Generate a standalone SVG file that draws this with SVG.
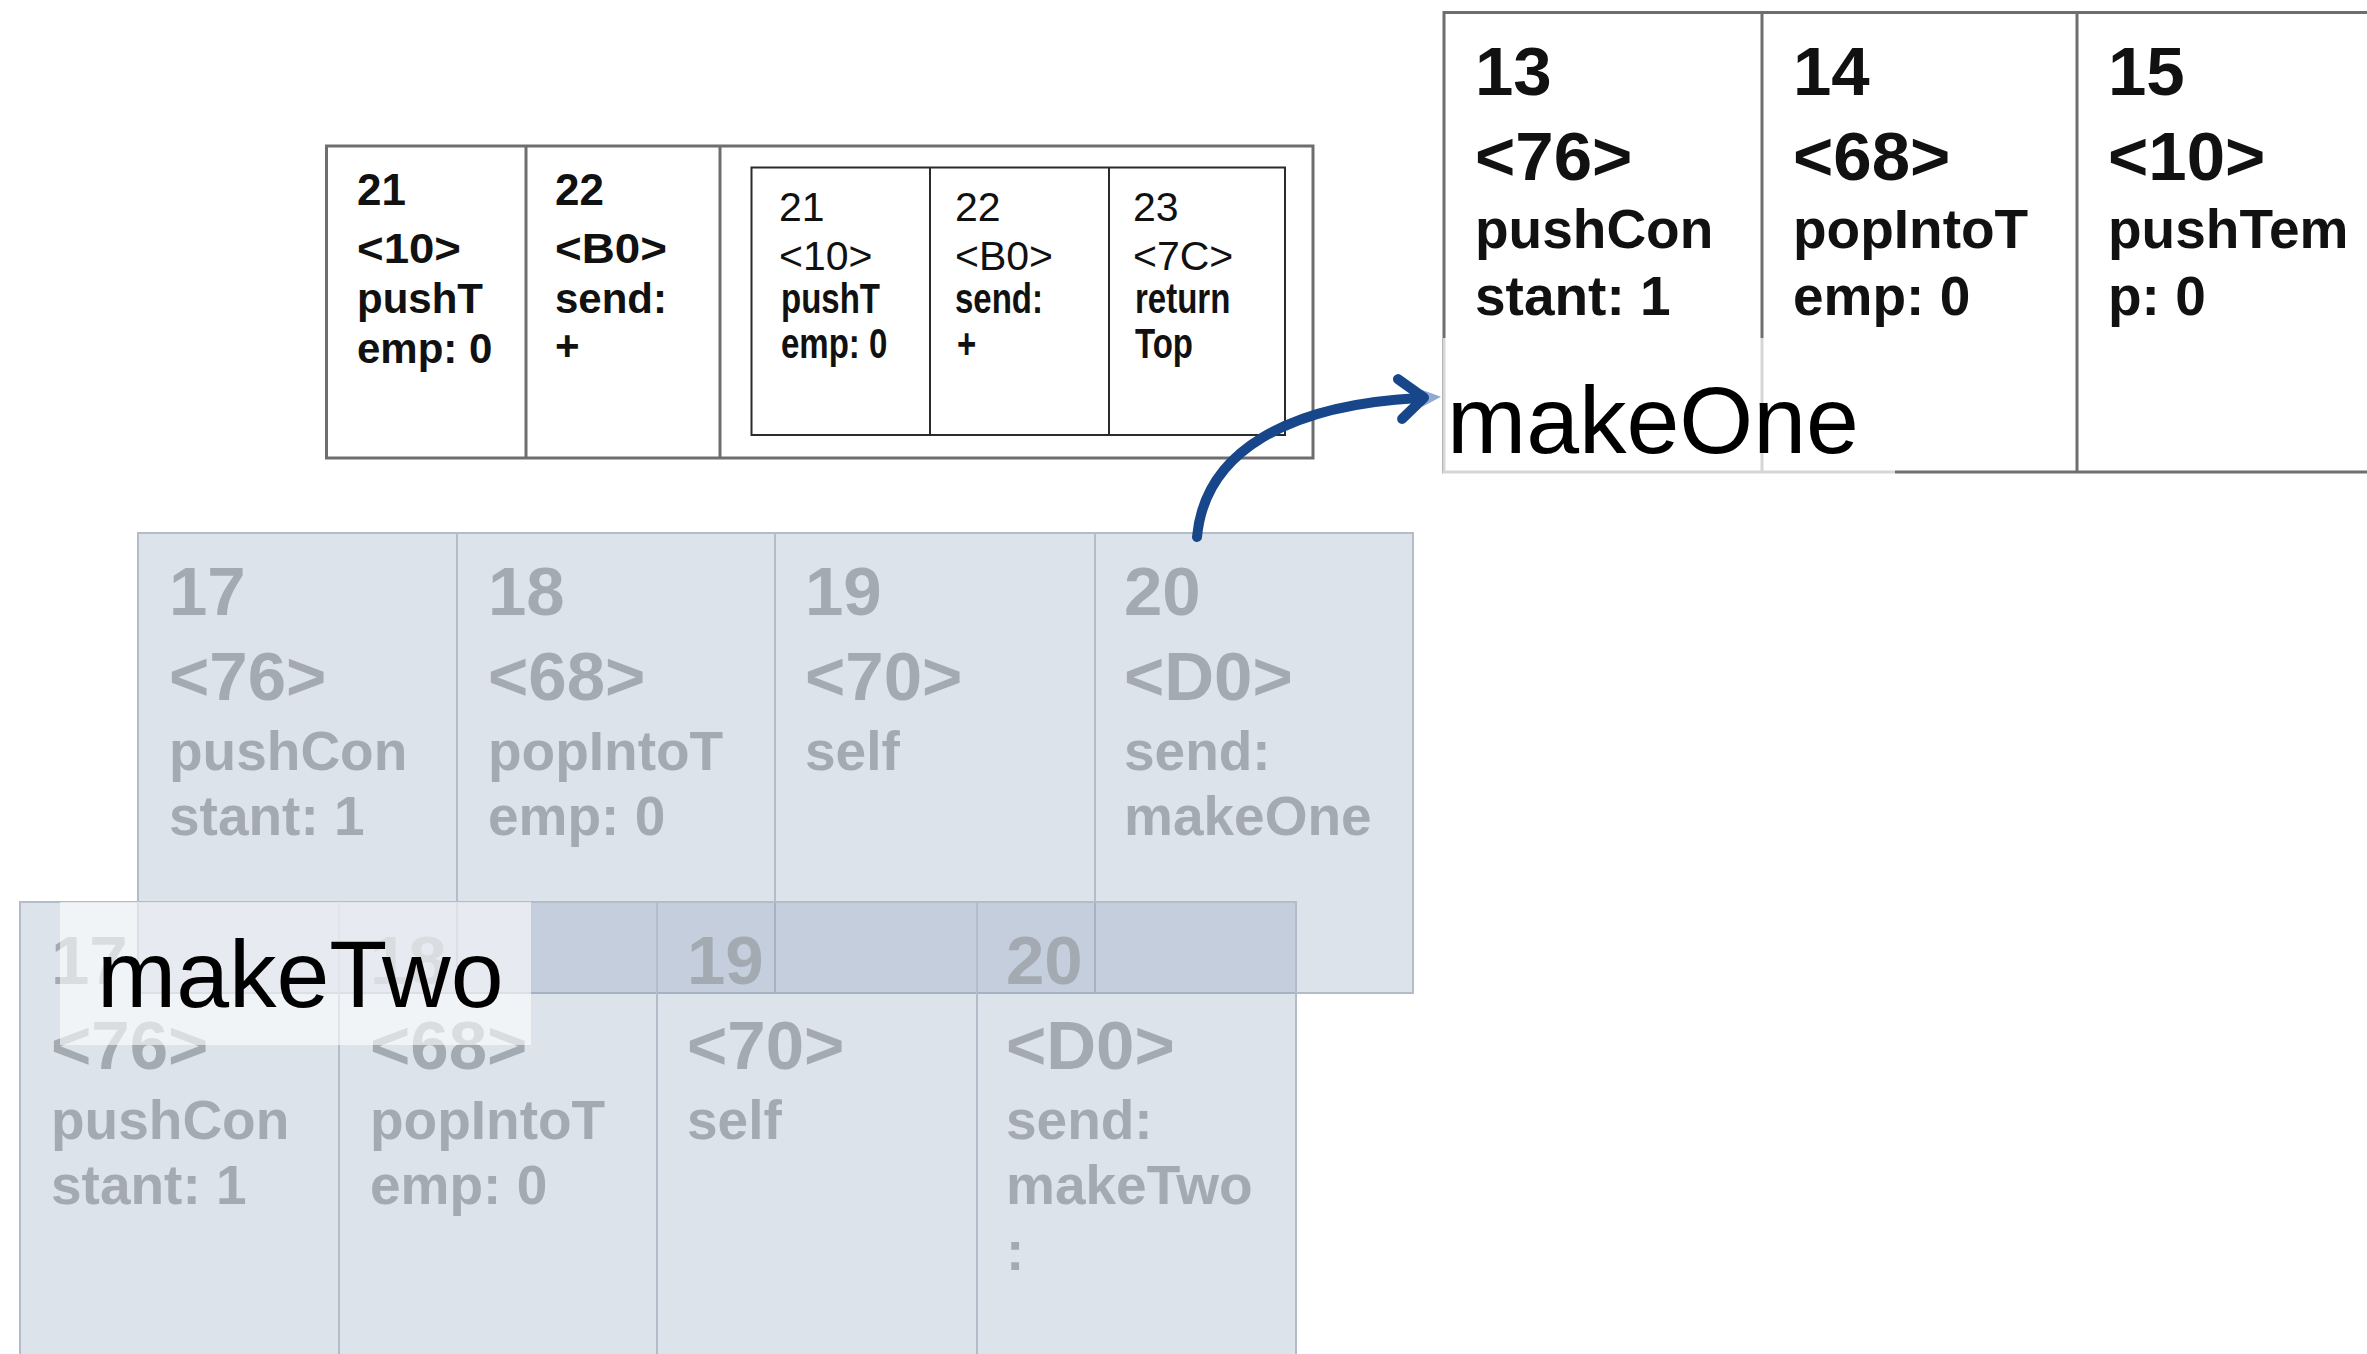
<svg xmlns="http://www.w3.org/2000/svg" width="2367" height="1354" viewBox="0 0 2367 1354">
<defs>
<style>
text { font-family: "Liberation Sans", Arial, sans-serif; }
.k { fill: #111111; }
.g { fill: #A4AAB2; }
.big { font-size: 69px; font-weight: bold; }
.mid { font-size: 55px; font-weight: bold; }
.ob { fill: #ffffff; stroke: #6e6e6e; stroke-width: 3; }
.ln { stroke: #6e6e6e; stroke-width: 3; }
.ib { fill: none; stroke: #2b2b2b; stroke-width: 2; }
.iln { stroke: #2b2b2b; stroke-width: 2; }
.gb { fill: #7F95B4; fill-opacity: 0.265; stroke: #B3BCC8; stroke-width: 2; }
.gl { stroke: #B3BCC8; stroke-width: 2; }
.lt { font-size: 95px; fill: #000000; }
.t44 { font-size: 44px; font-weight: bold; }
.t42 { font-size: 42px; font-weight: bold; }
.r41 { font-size: 41px; }
.s33 { font-size: 33px; font-weight: bold; }
.conn { fill: none; stroke: #17468A; stroke-width: 10; stroke-linecap: round; }
</style>
<marker id="ah" markerUnits="userSpaceOnUse" markerWidth="60" markerHeight="60" refX="24" refY="25" orient="auto" overflow="visible">
<polygon points="28,17 47,25 28,34" fill="#8DAAD0"/>
<path d="M5,5 L30,25 L7,45" fill="none" stroke="#17468A" stroke-width="10" stroke-linecap="round" stroke-linejoin="round"/>
</marker>
</defs>
<rect x="0" y="0" width="2367" height="1354" fill="#ffffff"/>

<g id="node-top-left">
<rect class="ob" x="326.5" y="146" width="986.5" height="312"/>
<line class="ln" x1="526" y1="146" x2="526" y2="458"/>
<line class="ln" x1="720" y1="146" x2="720" y2="458"/>
<rect class="ib" x="751.5" y="167.5" width="533.5" height="267.5"/>
<line class="iln" x1="930" y1="167.5" x2="930" y2="435"/>
<line class="iln" x1="1109" y1="167.5" x2="1109" y2="435"/>
<text class="k t44" x="357" y="205">21</text>
<text class="k t42" x="357" y="263" textLength="104" lengthAdjust="spacingAndGlyphs">&lt;10&gt;</text>
<text class="k t42" x="357" y="313">pushT</text>
<text class="k t42" x="357" y="363">emp: 0</text>
<text class="k t44" x="555" y="205">22</text>
<text class="k t42" x="555" y="263" textLength="112" lengthAdjust="spacingAndGlyphs">&lt;B0&gt;</text>
<text class="k t42" x="555" y="313">send:</text>
<text class="k t42" x="555" y="360">+</text>
<text class="k r41" x="779" y="221">21</text>
<text class="k r41" x="779" y="270">&lt;10&gt;</text>
<text class="k s33" transform="translate(781,313) scale(1,1.3)">pushT</text>
<text class="k s33" transform="translate(781,358) scale(1,1.3)">emp: 0</text>
<text class="k r41" x="955" y="221">22</text>
<text class="k r41" x="955" y="270">&lt;B0&gt;</text>
<text class="k s33" transform="translate(955,313) scale(1,1.3)">send:</text>
<text class="k s33" transform="translate(957,358) scale(1,1.3)">+</text>
<text class="k r41" x="1133" y="221">23</text>
<text class="k r41" x="1133" y="270">&lt;7C&gt;</text>
<text class="k s33" transform="translate(1135,313) scale(1,1.3)">return</text>
<text class="k s33" transform="translate(1135,358) scale(1,1.3)">Top</text>
</g>

<g id="node-top-right">
<rect class="ob" x="1444" y="12.5" width="960" height="459.5"/>
<line class="ln" x1="1762" y1="12.5" x2="1762" y2="472"/>
<line class="ln" x1="2077" y1="12.5" x2="2077" y2="472"/>
<text class="k big" x="1475" y="95">13</text>
<text class="k big" x="1475" y="180">&lt;76&gt;</text>
<text class="k mid" x="1475" y="248">pushCon</text>
<text class="k mid" x="1475" y="315">stant: 1</text>
<text class="k big" x="1793" y="95">14</text>
<text class="k big" x="1793" y="180">&lt;68&gt;</text>
<text class="k mid" x="1793" y="248">popIntoT</text>
<text class="k mid" x="1793" y="315">emp: 0</text>
<text class="k big" x="2108" y="95">15</text>
<text class="k big" x="2108" y="180">&lt;10&gt;</text>
<text class="k mid" x="2108" y="248">pushTem</text>
<text class="k mid" x="2108" y="315">p: 0</text>
</g>

<g id="label-makeOne">
<rect x="1443" y="338" width="452" height="136" fill="#ffffff" fill-opacity="0.72"/>
<text class="lt" x="1447" y="453">makeOne</text>
</g>

<g id="node-frame-makeOne">
<rect class="gb" x="138" y="533" width="1275" height="460"/>
<line class="gl" x1="457" y1="533" x2="457" y2="993"/>
<line class="gl" x1="775" y1="533" x2="775" y2="993"/>
<line class="gl" x1="1095" y1="533" x2="1095" y2="993"/>
<text class="g big" x="169" y="615">17</text>
<text class="g big" x="169" y="700">&lt;76&gt;</text>
<text class="g mid" x="169" y="770">pushCon</text>
<text class="g mid" x="169" y="835">stant: 1</text>
<text class="g big" x="488" y="615">18</text>
<text class="g big" x="488" y="700">&lt;68&gt;</text>
<text class="g mid" x="488" y="770">popIntoT</text>
<text class="g mid" x="488" y="835">emp: 0</text>
<text class="g big" x="805" y="615">19</text>
<text class="g big" x="805" y="700">&lt;70&gt;</text>
<text class="g mid" x="805" y="770">self</text>
<text class="g big" x="1124" y="615">20</text>
<text class="g big" x="1124" y="700">&lt;D0&gt;</text>
<text class="g mid" x="1124" y="770">send:</text>
<text class="g mid" x="1124" y="835">makeOne</text>
</g>

<g id="node-frame-makeTwo">
<rect class="gb" x="20" y="902" width="1276" height="470"/>
<line class="gl" x1="339" y1="902" x2="339" y2="1354"/>
<line class="gl" x1="657" y1="902" x2="657" y2="1354"/>
<line class="gl" x1="977" y1="902" x2="977" y2="1354"/>
<text class="g big" x="51" y="984">17</text>
<text class="g big" x="51" y="1069">&lt;76&gt;</text>
<text class="g mid" x="51" y="1139">pushCon</text>
<text class="g mid" x="51" y="1204">stant: 1</text>
<text class="g big" x="370" y="984">18</text>
<text class="g big" x="370" y="1069">&lt;68&gt;</text>
<text class="g mid" x="370" y="1139">popIntoT</text>
<text class="g mid" x="370" y="1204">emp: 0</text>
<text class="g big" x="687" y="984">19</text>
<text class="g big" x="687" y="1069">&lt;70&gt;</text>
<text class="g mid" x="687" y="1139">self</text>
<text class="g big" x="1006" y="984">20</text>
<text class="g big" x="1006" y="1069">&lt;D0&gt;</text>
<text class="g mid" x="1006" y="1139">send:</text>
<text class="g mid" x="1006" y="1204">makeTwo</text>
<text class="g mid" x="1006" y="1270">:</text>
</g>

<g id="label-makeTwo">
<rect x="60" y="902" width="471" height="143" fill="#ffffff" fill-opacity="0.6"/>
<text class="lt" x="97" y="1007" font-size="93">makeTwo</text>
</g>

<g id="connectors">
<path class="conn" d="M1197,537 C1205,450 1290,405 1418,398" marker-end="url(#ah)"/>
</g>
</svg>
